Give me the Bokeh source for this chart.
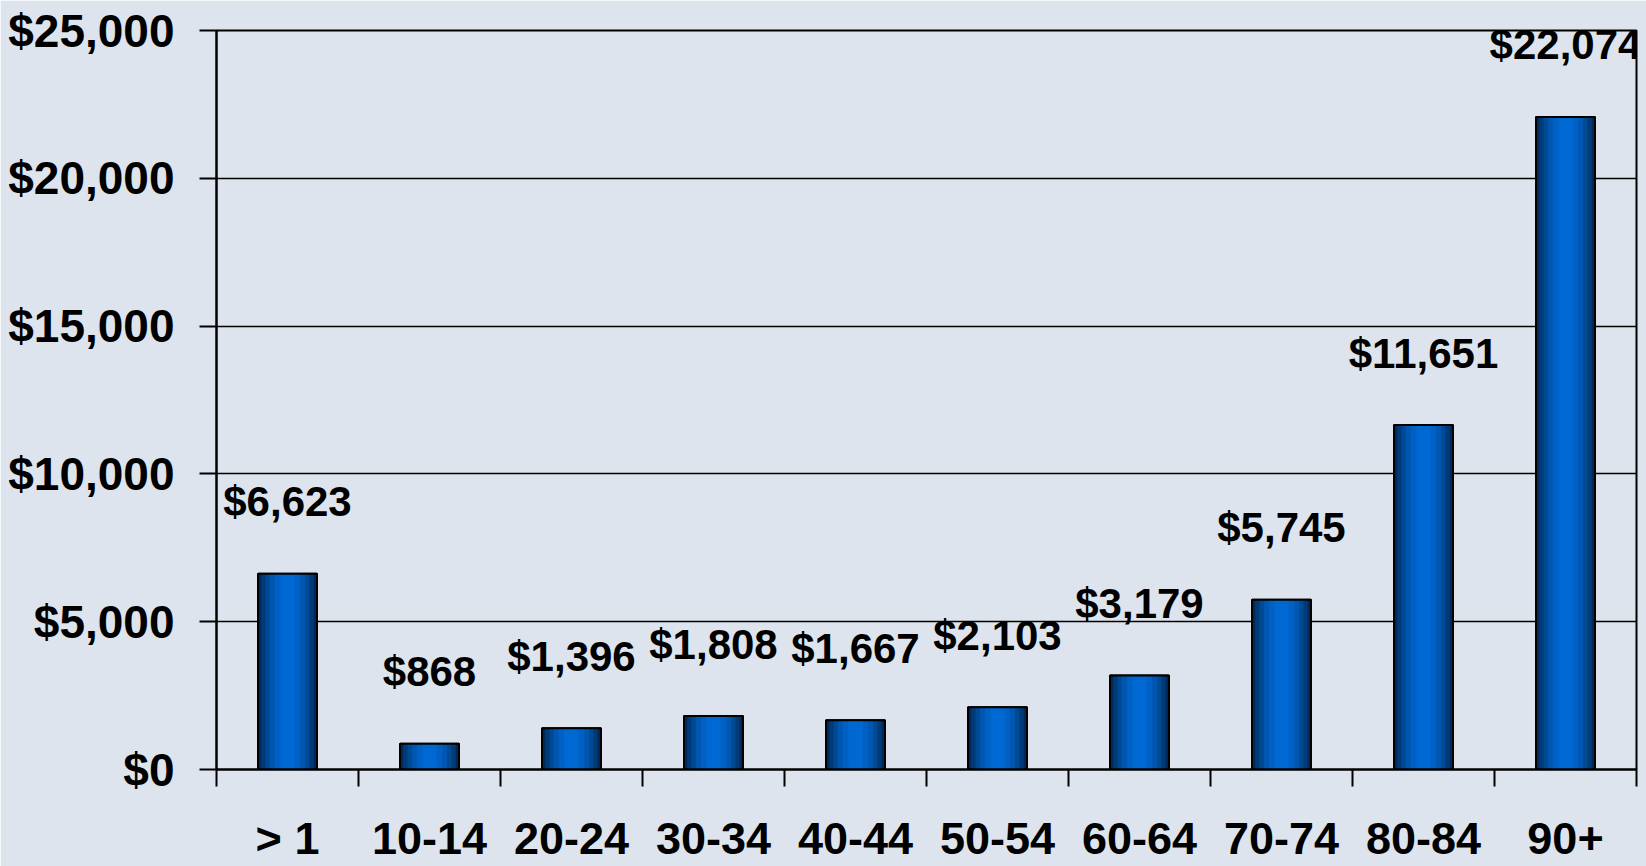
from bokeh.plotting import figure
from bokeh.models import FixedTicker, NumeralTickFormatter, ColumnDataSource, Range1d, LabelSet
from bokeh.core.properties import value
from bokeh.embed import file_html
from bokeh.resources import INLINE

categories = ["> 1", "10-14", "20-24", "30-34", "40-44", "50-54", "60-64", "70-74", "80-84", "90+"]
costs = [6623, 868, 1396, 1808, 1667, 2103, 3179, 5745, 11651, 22074]
y_ticks = [0, 5000, 10000, 15000, 20000, 25000]

xs = [i + 0.5 for i in range(len(categories))]
src = ColumnDataSource(dict(x=xs, top=costs, label=[f"${v:,}" for v in costs]))

BG = "#dde4ed"
FONT = "Liberation Sans"

p = figure(width=1646, height=866, output_backend="svg", toolbar_location=None,
           x_range=Range1d(0, len(categories)), y_range=Range1d(0, 25000),
           min_border_left=216, min_border_right=10, min_border_top=30, min_border_bottom=95)
p.background_fill_color = BG
p.border_fill_color = BG
p.outline_line_color = "black"
p.outline_line_width = 2

# gradient-like bars: nested layers
layers = [(0.415, "#002a5a"), (0.37, "#003a78"), (0.31, "#004a94"), (0.25, "#0056b0"),
          (0.18, "#0060c4"), (0.10, "#0068d2")]
p.vbar(x="x", top="top", bottom=0, width=0.415, source=src, fill_color="#002a5a",
       line_color="black", line_width=2)
for w, c in layers[1:]:
    p.vbar(x="x", top="top", bottom=0, width=w, source=src, fill_color=c, line_color=None)
p.vbar(x="x", top="top", bottom=0, width=0.415, source=src, fill_color=None,
       line_color="black", line_width=2)

labels = LabelSet(x="x", y="top", text="label", source=src, y_offset=72,
                  text_font=value(FONT), text_font_style="bold", text_font_size="42px",
                  text_align="center", text_baseline="middle", text_color="black")
p.add_layout(labels)

# y axis
p.yaxis.ticker = FixedTicker(ticks=y_ticks)
p.yaxis.formatter = NumeralTickFormatter(format="$0,0")
p.yaxis.major_label_text_font = FONT
p.yaxis.major_label_text_font_style = "bold"
p.yaxis.major_label_text_font_size = "46px"
p.yaxis.major_label_text_color = "black"
p.yaxis.major_tick_out = 17
p.yaxis.major_tick_in = 0
p.yaxis.major_tick_line_width = 2
p.yaxis.minor_tick_line_color = None
p.yaxis.axis_line_width = 2
p.yaxis.major_label_standoff = 25

# x axis: labels at centers, ticks at boundaries
p.xaxis.ticker = FixedTicker(ticks=xs, minor_ticks=list(range(len(categories) + 1)))
p.xaxis.major_label_overrides = {x: c for x, c in zip(xs, categories)}
p.xaxis.major_tick_line_color = None
p.xaxis.major_tick_out = 0
p.xaxis.major_tick_in = 0
p.xaxis.minor_tick_out = 17
p.xaxis.minor_tick_in = 0
p.xaxis.minor_tick_line_width = 2
p.xaxis.axis_line_width = 2
p.xaxis.major_label_text_font = FONT
p.xaxis.major_label_text_font_style = "bold"
p.xaxis.major_label_text_font_size = "45px"
p.xaxis.major_label_text_color = "black"
p.xaxis.major_label_standoff = 26

p.xgrid.grid_line_color = None
p.ygrid.ticker = FixedTicker(ticks=y_ticks)
p.ygrid.grid_line_color = "black"
p.ygrid.grid_line_width = 1.5

open("out.html", "w").write(file_html(p, INLINE))
